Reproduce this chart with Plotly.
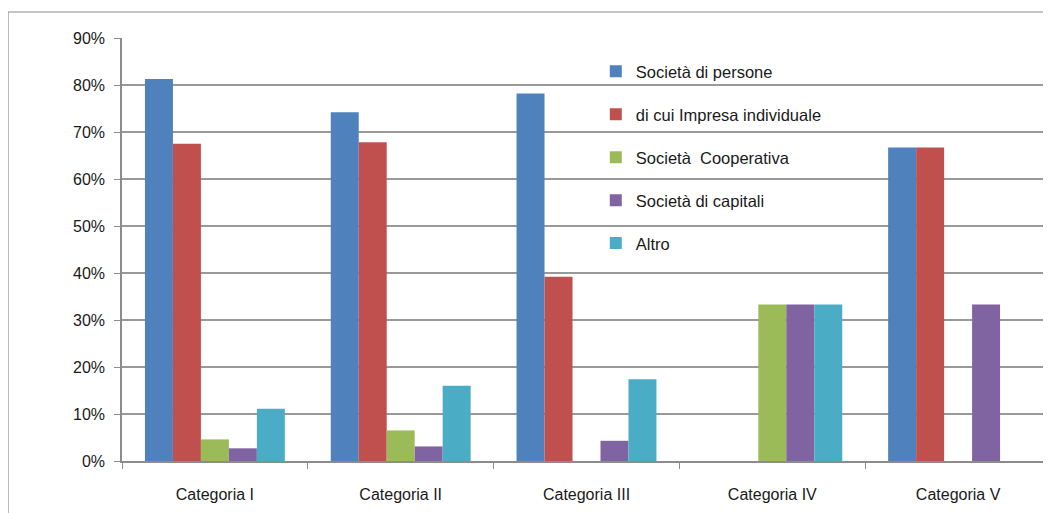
import plotly.graph_objects as go

categories = ["Categoria I", "Categoria II", "Categoria III", "Categoria IV", "Categoria V"]
series_names = ["Società di persone", "di cui Impresa individuale", "Società  Cooperativa",
                "Società di capitali", "Altro"]
persone = [0.813, 0.742, 0.782, 0.0, 0.667]
individuale = [0.675, 0.678, 0.392, 0.0, 0.667]
cooperativa = [0.046, 0.065, 0.0, 0.333, 0.0]
capitali = [0.027, 0.031, 0.043, 0.333, 0.333]
altro = [0.111, 0.160, 0.174, 0.333, 0.0]
colors = ["#4F81BD", "#C0504D", "#9BBB59", "#8064A2", "#4BACC6"]
y_ticks = [0, 0.1, 0.2, 0.3, 0.4, 0.5, 0.6, 0.7, 0.8, 0.9]

FONT = "Liberation Sans, Arial, sans-serif"

fig = go.Figure()
for i, (name, vals) in enumerate(zip(series_names, [persone, individuale, cooperativa, capitali, altro])):
    fig.add_trace(go.Bar(
        x=categories, y=vals, name=name,
        marker=dict(color=colors[i], line=dict(width=0)),
        legendgroup=f"g{i}",
    ))

fig.update_layout(
    width=1043, height=505,
    margin=dict(l=114, r=0, t=30, b=52),
    paper_bgcolor="white", plot_bgcolor="white",
    barmode="group", bargap=0.247, bargroupgap=0,
    font=dict(family=FONT, size=16, color="#1a1a1a"),
    showlegend=True,
    legend=dict(
        x=0.51, y=0.962, xanchor="left", yanchor="top",
        bgcolor="rgba(0,0,0,0)", borderwidth=0,
        tracegroupgap=18.5,
        font=dict(family=FONT, size=16.5, color="#1a1a1a"),
        itemwidth=30,
    ),
    xaxis=dict(
        showgrid=False, showline=True, linecolor="#8c8c8c", linewidth=1.5,
        ticks="outside", ticklen=6, tickcolor="#8c8c8c", tickson="boundaries",
        ticklabelstandoff=18,
        tickfont=dict(family=FONT, size=16, color="#1a1a1a"),
    ),
    yaxis=dict(
        range=[0, 0.9], tickvals=y_ticks, tickformat=".0%",
        showgrid=True, gridcolor="#999999", gridwidth=1.5,
        showline=True, linecolor="#8c8c8c", linewidth=1.5,
        ticks="outside", ticklen=6, tickcolor="#8c8c8c",
        ticklabelstandoff=6, zeroline=False,
        tickfont=dict(family=FONT, size=16, color="#1a1a1a"),
    ),
    shapes=[dict(
        type="rect", xref="paper", yref="paper",
        x0=(8 - 122) / 929, x1=1.05, y0=-0.3, y1=(461 - 12) / 423,
        line=dict(color="#8c8c8c", width=1.2), fillcolor="rgba(0,0,0,0)",
        layer="below",
    )],
)

fig.write_html("out.html")
